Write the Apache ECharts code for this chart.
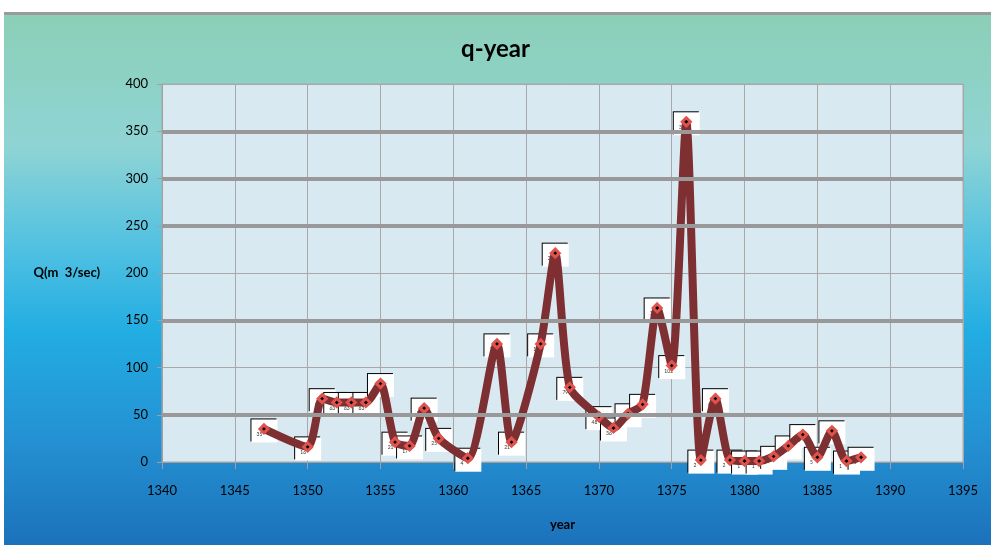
<!DOCTYPE html>
<html>
<head>
<meta charset="utf-8">
<script src="https://cdn.jsdelivr.net/npm/echarts@6/dist/echarts.min.js"></script>
<style>
html,body{margin:0;padding:0;background:#fff;}
#c{width:991px;height:545px;}
</style>
</head>
<body>
<div id="c"></div>
<script>
var years = [1347,1350,1351,1352,1353,1354,1355,1356,1357,1358,1359,1361,1363,1364,1366,1367,1368,1370,1371,1372,1373,1374,1375,1376,1377,1378,1379,1380,1381,1382,1383,1384,1385,1386,1387,1388];
var qValues = [35,16,67,63,63,63,83,21,17,57,25,4,125,21,125,221,79,48,36,51,61,163,102,360,2,67,2,1,1,6,17,29,5,33,1,5];
var xTicks = [1340,1345,1350,1355,1360,1365,1370,1375,1380,1385,1390,1395];
var yTicks = [0,50,100,150,200,250,300,350,400];
var thickGridValues = [50,150,250,300,350];

var points = years.map(function(y,i){ return [y, qValues[i]]; });
var font = 'Lato, "Open Sans", sans-serif';

var chart = echarts.init(document.getElementById('c'), null, {renderer:'canvas'});
chart.setOption({
  animation:false,
  backgroundColor:'#ffffff',
  graphic:[
    {type:'rect', z:-10, shape:{x:4,y:12,width:987,height:533},
     style:{fill:new echarts.graphic.LinearGradient(0,0,0,1,[
       {offset:0,color:'#8BCFB6'},
       {offset:0.25,color:'#8FD4D4'},
       {offset:0.45,color:'#4EC0E2'},
       {offset:0.6,color:'#22ADE2'},
       {offset:0.8,color:'#2491D3'},
       {offset:1,color:'#1C72BA'}])}},
    {type:'rect', z:-9, shape:{x:4,y:12,width:987,height:3}, style:{fill:'#9a9a9a'}}
  ],
  title:{
    text:'q-year', left:'center', top:32,
    textStyle:{fontFamily:font,fontWeight:'bold',fontSize:24,color:'#000'}
  },
  grid:{left:162,right:28,top:84,bottom:83,show:true,backgroundColor:'#D9E9F1',borderColor:'#a8a8a8',borderWidth:1},
  xAxis:{
    type:'value', min:1340, max:1395, interval:5,
    name:'year', nameLocation:'middle', nameGap:56,
    nameTextStyle:{fontFamily:font,fontWeight:'bold',fontSize:13,color:'#000'},
    axisLine:{show:true,lineStyle:{color:'#a0a0a0',width:1}},
    axisTick:{show:true,length:7,lineStyle:{color:'#a0a0a0'}},
    axisLabel:{fontFamily:font,fontSize:13,color:'#000',margin:22,
      formatter:function(v){ return xTicks.indexOf(v)>=0 ? String(v) : ''; }},
    splitLine:{show:true,lineStyle:{color:'#a8a8a8',width:1}}
  },
  yAxis:{
    type:'value', min:0, max:400, interval:50,
    name:'Q(m  3/sec)', nameLocation:'middle', nameRotate:0, nameGap:62,
    nameTextStyle:{fontFamily:font,fontWeight:'bold',fontSize:13,color:'#000'},
    axisLine:{show:true,lineStyle:{color:'#a0a0a0'}},
    axisTick:{show:true,length:5,lineStyle:{color:'#a0a0a0'}},
    axisLabel:{fontFamily:font,fontSize:13,color:'#000',margin:14,
      formatter:function(v){ return yTicks.indexOf(v)>=0 ? String(v) : ''; }},
    splitLine:{show:true,lineStyle:{color:'#a8a8a8',width:1}}
  },
  series:[
    {
      type:'scatter', z:1, data:points, symbolSize:1,
      itemStyle:{color:'#ffffff',opacity:1},
      silent:true,
      emphasis:{disabled:true},
      labelLayout:{hideOverlap:false},
      label:{show:true, position:[-12,-9], width:26, height:23,
        backgroundColor:'#ffffff', color:'#333', fontSize:5, fontFamily:font,
        align:'left', verticalAlign:'top', padding:[0,0,0,0],
        lineHeight:6, opacity:1,
        shadowColor:'#000', shadowOffsetX:-1, shadowOffsetY:-1, shadowBlur:0,
        formatter:function(p){ return '\n\n    ' + p.value[1]; }}
    },
    {
      type:'line', z:3, data:points, smooth:0.22,
      lineStyle:{color:'#7E2F31',width:8},
      symbol:'diamond', symbolSize:8,
      itemStyle:{color:'#000',borderColor:'#E0524C',borderWidth:3},
      markLine:{silent:true, symbol:'none', label:{show:false},
        lineStyle:{color:'#999',width:4,type:'solid'},
        data:thickGridValues.map(function(v){ return {yAxis:v}; })}
    }
  ]
});
</script>
</body>
</html>
